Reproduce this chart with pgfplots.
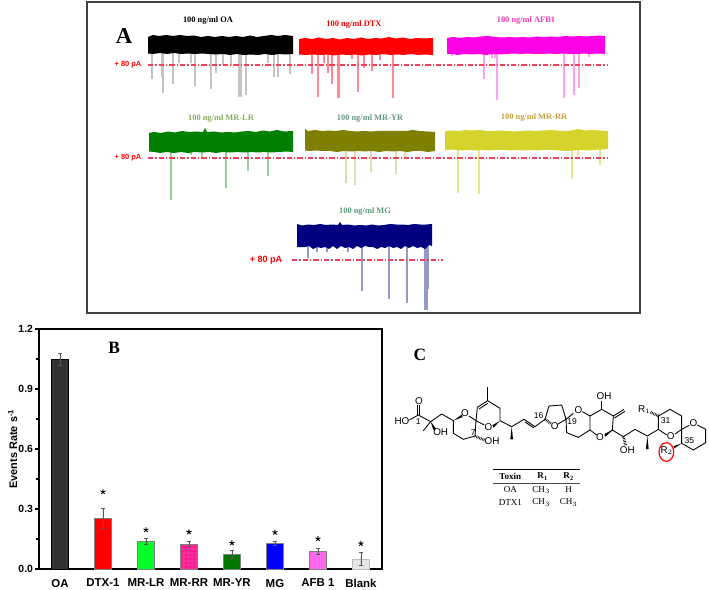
\documentclass[border=0pt]{standalone}
\usepackage{fontspec}
\setmainfont{Liberation Serif}
\setsansfont{Liberation Sans}
\usepackage{pgfplots}
\pgfplotsset{compat=1.18}
\usetikzlibrary{patterns}
\definecolor{redline}{HTML}{F0405A}
\definecolor{oaspike}{HTML}{C4C4C4}
\definecolor{dtxspike}{HTML}{FF8A96}
\definecolor{afbspike}{HTML}{FFA0F0}
\definecolor{lrspike}{HTML}{96D09A}
\definecolor{yrspike}{HTML}{DEDDB0}
\definecolor{rrspike}{HTML}{E8E88A}
\definecolor{mgspike}{HTML}{959BC8}
\definecolor{rrband}{HTML}{D4D42C}
\definecolor{magband}{HTML}{FF00E6}
\definecolor{lrband}{HTML}{008000}
\definecolor{yrband}{HTML}{808000}
\definecolor{mgband}{HTML}{000080}
\definecolor{afbtitle}{HTML}{EB3CB4}
\definecolor{lrtitle}{HTML}{87AF5F}
\definecolor{yrtitle}{HTML}{699687}
\definecolor{rrtitle}{HTML}{C8A03C}
\definecolor{mgtitle}{HTML}{5A9B7D}
\definecolor{barlr}{HTML}{00FF28}
\definecolor{barrr}{HTML}{FF1E96}
\definecolor{baryr}{HTML}{007800}
\definecolor{barafb}{HTML}{FF64F0}
\pgfplotsset{
  spike/.style={line width=0.8pt,unbounded coords=jump,forget plot},
  thresh/.style={redline,line width=0.9pt,dash pattern=on 4pt off 1.5pt on 1pt off 1.5pt,forget plot},
  band/.style={draw=none,fill=#1,forget plot},
  bond/.style={black,line width=0.65pt,forget plot},
  hashb/.style={black,line width=2pt,dash pattern=on 0.5pt off 0.7pt,forget plot},
  wedge/.style={fill=black,draw=none,forget plot},
  barstyle/.style={
    draw=gray,line width=0.6pt,bar shift=0pt,
    error bars/y dir=both,error bars/y explicit,
    error bars/error bar style={color=black!65,line width=0.5pt},
    error bars/error mark options={rotate=90,mark size=1.8pt,color=black!65}}
}
\begin{document}
\begin{tikzpicture}[x=1pt,y=1pt]
\path[use as bounding box] (0,0) rectangle (531.75,441.75);

% panel A, in picture pixels
\begin{axis}[at={(0pt,0pt)},anchor=south west,scale only axis,width=531.75pt,height=441.75pt,
  xmin=0,xmax=709,ymin=0,ymax=589,y dir=reverse,axis lines=none,clip=false]
  \addplot[black!75,line width=1.5pt,forget plot] coordinates {(87,2)(640,2)(640,313)(87,313)} -- cycle;

  % spikes under the traces
  \addplot[spike,oaspike] coordinates {(152,50)(152,79)(152,nan)(162,50)(162,77)(162,nan)(163,50)(163,93)(163,nan)(173,50)(173,84)(173,nan)(179,50)(179,63)(179,nan)(191,50)(191,63)(191,nan)(195,50)(195,86)(195,nan)(211,50)(211,89)(211,nan)(216,50)(216,73)(216,nan)(223,50)(223,65)(223,nan)(231,50)(231,66)(231,nan)(239,50)(239,97)(239,nan)(241,50)(241,97)(241,nan)(246,50)(246,95)(246,nan)(268,50)(268,63)(268,nan)(274,50)(274,77)(274,nan)(278,50)(278,77)(278,nan)(290,50)(290,74)};
  \addplot[spike,dtxspike] coordinates {(312,50)(312,74)(312,nan)(318,50)(318,97)(318,nan)(324,50)(324,63)(324,nan)(328,50)(328,73)(328,nan)(332,50)(332,84)(332,nan)(338,50)(338,98)(338,nan)(339,50)(339,98)(339,nan)(352,50)(352,59)(352,nan)(358,50)(358,92)(358,nan)(364,50)(364,68)(364,nan)(372,50)(372,71)(372,nan)(380,50)(380,60)(380,nan)(393,50)(393,98)};
  \addplot[spike,afbspike] coordinates {(452,50)(452,56)(452,nan)(484,50)(484,79)(484,nan)(492,50)(492,58)(492,nan)(495,50)(495,58)(495,nan)(497,50)(497,100)(497,nan)(564,50)(564,98)(564,nan)(574,50)(574,95)(574,nan)(579,50)(579,88)(579,nan)(589,50)(589,57)};
  \addplot[spike,lrspike] coordinates {(171,148)(171,200)(171,nan)(191,148)(191,155)(191,nan)(202,148)(202,157)(202,nan)(226,148)(226,188)(226,nan)(248,148)(248,171)(248,nan)(268,148)(268,176)};
  \addplot[spike,yrspike] coordinates {(346,148)(346,183)(346,nan)(355,148)(355,185)(355,nan)(371,148)(371,172)(371,nan)(396,148)(396,174)(396,nan)(405,148)(405,159)};
  \addplot[spike,rrspike] coordinates {(458,148)(458,193)(458,nan)(479,148)(479,194)(479,nan)(572,148)(572,179)(572,nan)(578,148)(578,155)(578,nan)(600,148)(600,165)};
  \addplot[spike,mgspike] coordinates {(308,245)(308,258)(308,nan)(317,245)(317,252)(317,nan)(327,245)(327,252)(327,nan)(348,245)(348,252)(348,nan)(362,245)(362,291)(362,nan)(389,245)(389,299)(389,nan)(407,245)(407,303)(407,nan)(425,245)(425,310)(425,nan)(427,245)(427,310)(427,nan)(428,245)(428,289)};

  % trace bands
  \addplot[band=black] coordinates {(148,37)(153,35)(159,36)(166,35)(173,36)(180,35)(187,36)(194,35.5)(201,37)(208,36)(215,37)(222,36)(229,37)(236,36)(243,37)(250,35.5)(257,37)(264,36)(271,35)(278,36)(285,35)(293,36)
    (293,54)(286,54.5)(279,54)(272,55)(265,54)(258,55)(251,54.5)(244,55)(237,54)(230,55)(223,54)(216,54.5)(209,54)(202,53.5)(195,54)(188,53.5)(181,54)(174,53)(167,54)(160,53)(153,54)(148,53.5)} -- cycle;
  \addplot[band=red] coordinates {(299,39)(305,38)(312,39)(319,37.5)(326,39)(333,38)(340,39.5)(347,38)(354,39)(361,37.5)(368,39)(375,38)(382,38.5)(389,37)(396,38.5)(403,37.5)(410,39)(417,38)(424,38.5)(433,38)
    (433,55)(425,54.5)(418,55)(411,54)(404,55)(397,54.5)(390,55)(383,54)(376,55)(369,54.5)(362,55.5)(355,54.5)(348,55)(341,54.5)(334,55.5)(327,54.5)(320,55)(313,54.5)(306,55)(299,54.5)} -- cycle;
  \addplot[band=magband] coordinates {(447,38)(453,37)(460,38)(467,37)(474,37.5)(481,36.5)(488,36)(495,37)(502,37.5)(509,37)(516,37.5)(523,37)(530,37.5)(537,36.5)(544,37)(551,36.5)(558,37)(565,36)(572,36.5)(579,36)(586,36.5)(593,36)(599,35.5)(605,36)
    (605,54)(598,53.5)(591,54)(584,53.5)(577,54)(570,54)(563,53.5)(556,54)(549,53.5)(542,54)(535,54)(528,53.5)(521,54)(514,53.5)(507,54)(500,54.5)(493,54)(486,55)(479,54)(472,54.5)(465,54)(458,55)(452,54)(447,54)} -- cycle;
  \addplot[band=lrband] coordinates {(149,133)(154,132)(161,133)(168,131.5)(175,132.5)(182,131)(189,132)(196,131.5)(203,132)(205,128)(207,132)(214,131.5)(221,132.5)(228,132)(235,132.5)(242,131.5)(249,131)(256,132)(263,130.5)(270,131.5)(277,130)(284,131.5)(293,131)
    (293,152)(286,151.5)(279,152)(272,152.5)(265,152)(258,152.5)(251,152)(244,152.5)(237,152)(230,152.5)(223,152)(216,153)(209,152)(202,152.5)(195,152)(188,153)(181,152)(174,153)(167,152)(160,153)(154,152)(149,151.5)} -- cycle;
  \addplot[band=yrband] coordinates {(305,129)(308,131)(315,130)(322,131)(329,130.5)(336,131)(343,130)(350,131)(357,131.5)(364,131)(371,131.5)(378,131)(385,131)(392,131)(399,131)(406,131)(413,130)(420,131)(427,131.5)(435,132)
    (435,151)(428,152)(421,151)(414,151)(407,152)(400,151)(393,151.5)(386,151)(379,152)(372,151)(365,151.5)(358,151)(351,151.5)(344,151)(337,152)(330,151)(323,151)(316,150.5)(309,151)(305,150.5)} -- cycle;
  \addplot[band=rrband] coordinates {(445,131)(452,130.5)(459,131)(466,130)(473,130.5)(480,130)(487,131)(494,131)(501,130.5)(508,131)(515,131.5)(522,131)(529,130.5)(536,131)(543,130.5)(550,130)(557,130.5)(564,131)(571,130.5)(578,129)(585,130.5)(592,130)(600,130.5)(608,131)
    (608,149)(601,149.5)(594,150)(587,150.5)(580,150)(573,150.5)(566,151)(559,150.5)(552,150)(545,150)(538,150.5)(531,150)(524,150.5)(517,150)(510,150.5)(503,150)(496,150)(489,150.5)(482,150)(475,150.5)(468,150)(461,150.5)(454,149.5)(445,150)} -- cycle;
  \addplot[band=mgband] coordinates {(297,224)(302,225.5)(308,224.5)(314,225)(320,224)(326,225)(332,224.5)(338,225)(340,222)(342,225)(348,224.5)(354,225.5)(360,225)(366,225.5)(372,224.5)(378,225.5)(384,225)(390,224)(396,224.5)(402,224.5)(408,225)(414,224)(420,224.5)(426,224.5)(432,224)
    (432,246)(429,245)(425,249)(421,247)(417,248)(413,246)(409,248)(405,246)(401,249)(397,247)(393,248)(389,246)(385,248)(381,247)(377,249)(373,247)(369,247)(365,246)(361,248)(357,246)(353,249)(349,247)(345,248)(341,246)(337,249)(333,246)(329,249)(325,247)(321,248)(317,247)(313,249)(309,246)(305,247)(301,247)(297,247)} -- cycle;

  % threshold lines
  \addplot[thresh] coordinates {(148,65)(608,65)};
  \addplot[thresh] coordinates {(148,158)(608,158)};
  \addplot[thresh] coordinates {(292,260)(443,260)};

  \node[font=\bfseries\fontsize{17}{17}\selectfont,inner sep=0] at (axis cs:124,36) {A};
  \node[font=\sffamily\bfseries\fontsize{5.6}{6}\selectfont,text=red,inner sep=0] at (axis cs:128,65) {+ 80 pA};
  \node[font=\sffamily\bfseries\fontsize{5.6}{6}\selectfont,text=red,inner sep=0] at (axis cs:128,158) {+ 80 pA};
  \node[font=\sffamily\bfseries\fontsize{6.8}{7}\selectfont,text=red,inner sep=0] at (axis cs:266,260) {+ 80 pA};
  \node[font=\bfseries\fontsize{6.3}{7}\selectfont,text=black,inner sep=0] at (axis cs:208,21) {100 ng/ml OA};
  \node[font=\bfseries\fontsize{6.3}{7}\selectfont,text=red,inner sep=0] at (axis cs:354,25) {100 ng/ml DTX};
  \node[font=\bfseries\fontsize{6.3}{7}\selectfont,text=afbtitle,inner sep=0] at (axis cs:526,21) {100 ng/ml AFB1};
  \node[font=\bfseries\fontsize{6.3}{7}\selectfont,text=lrtitle,inner sep=0] at (axis cs:221,119) {100 ng/ml MR-LR};
  \node[font=\bfseries\fontsize{6.3}{7}\selectfont,text=yrtitle,inner sep=0] at (axis cs:370,119) {100 ng/ml MR-YR};
  \node[font=\bfseries\fontsize{6.3}{7}\selectfont,text=rrtitle,inner sep=0] at (axis cs:534,118) {100 ng/ml MR-RR};
  \node[font=\bfseries\fontsize{6.3}{7}\selectfont,text=mgtitle,inner sep=0] at (axis cs:365,212) {100 ng/ml MG};
\end{axis}

% panel B
\begin{axis}[at={(29.25pt,15pt)},anchor=south west,scale only axis,width=257.25pt,height=180pt,
  ybar,axis line style={line width=1.7pt},
  xmin=0.512,xmax=8.49,ymin=0,ymax=1.2,
  xtick={1,...,8},
  xticklabels={OA,DTX-1,MR-LR,MR-RR,MR-YR,\raisebox{1.5pt}{MG},\raisebox{1.5pt}{AFB 1},\raisebox{1.5pt}{Blank}},
  x tick style={draw=none},
  x tick label style={font=\sffamily\bfseries\fontsize{8.6}{9}\selectfont,yshift=-1pt},
  ytick={0,0.3,0.6,0.9,1.2},ytick pos=left,minor y tick num=1,
  tick align=outside,
  y tick style={line width=1pt,black},
  major tick length=3pt,minor tick length=2pt,
  y tick label style={font=\sffamily\bfseries\fontsize{7.8}{8}\selectfont,xshift=2pt,
    /pgf/number format/.cd,fixed,fixed zerofill,precision=1,assume math mode=true},
  ylabel={Events Rate s\textsuperscript{-1}},
  ylabel style={font=\sffamily\bfseries\fontsize{8.2}{9}\selectfont,yshift=-6pt},
  bar width=12.75pt,clip=false]
  \addplot[barstyle,fill=black!80,draw=black] coordinates {(1,1.05) +- (0,0.03)};
  \addplot[barstyle,fill=red] coordinates {(2,0.255) +- (0,0.05)};
  \addplot[barstyle,fill=barlr] coordinates {(3,0.14) +- (0,0.015)};
  \addplot[barstyle,fill=barrr,postaction={pattern=dots,pattern color=black!30}] coordinates {(4,0.125) +- (0,0.012)};
  \addplot[barstyle,fill=baryr] coordinates {(5,0.075) +- (0,0.02)};
  \addplot[barstyle,fill=blue] coordinates {(6,0.13) +- (0,0.01)};
  \addplot[barstyle,fill=barafb,postaction={pattern=dots,pattern color=black!30}] coordinates {(7,0.09) +- (0,0.016)};
  \addplot[barstyle,fill=black!10,draw=black!25] coordinates {(8,0.05) +- (0,0.032)};
  \addplot[only marks,mark=star,mark size=2pt,mark options={line width=0.7pt,black},forget plot] coordinates {(2,0.386)(3,0.196)(4,0.185)(5,0.13)(6,0.183)(7,0.151)(8,0.127)};
  \node[font=\bfseries\fontsize{13}{13}\selectfont,inner sep=0] at (axis cs:2.26,1.108) {B};
\end{axis}

% panel C, in units of a third of a pixel
\begin{axis}[at={(300pt,59.25pt)},anchor=south west,scale only axis,width=231.75pt,height=135pt,
  xmin=0,xmax=927,ymin=0,ymax=540,y dir=reverse,axis lines=none,clip=false,
  every node/.append style={inner sep=0}]
  \addplot[bond] coordinates {(28,270)(55,255)(92,275)(125,252)(160,272)(160,310)(190,328)(225,318)(228,272)(207,258)};
  \addplot[bond] coordinates {(52,255)(52,226)};
  \addplot[bond] coordinates {(59,255)(59,226)};
  \addplot[bond] coordinates {(92,275)(70,302)};
  \addplot[wedge] coordinates {(92,275)(100,300)(108,296)} -- cycle;
  \addplot[wedge] coordinates {(160,272)(185,254)(188,261)} -- cycle;
  \addplot[bond] coordinates {(228,272)(232,232)(263,212)(300,235)(300,272)};
  \addplot[bond] coordinates {(237,237)(263,220)};
  \addplot[bond] coordinates {(263,212)(263,172)};
  \addplot[wedge] coordinates {(300,272)(277,286)(281,293)} -- cycle;
  \addplot[bond] coordinates {(253,285)(228,272)};
  \addplot[hashb] coordinates {(225,318)(254,331)};
  \addplot[bond] coordinates {(300,272)(335,290)(372,268)(405,290)(435,268)};
  \addplot[bond] coordinates {(375,276)(402,294)};
  \addplot[wedge] coordinates {(335,290)(331,328)(339,328)} -- cycle;
  \addplot[bond] coordinates {(435,268)(447,228)(485,225)(498,268)(520,250)};
  \addplot[hashb] coordinates {(435,268)(453,281)};
  \addplot[bond] coordinates {(474,282)(498,268)(500,308)(535,322)(570,300)(570,258)(547,245)};
  \addplot[bond] coordinates {(570,258)(605,238)(640,258)(637,300)(615,318)};
  \addplot[bond] coordinates {(570,300)(590,315)};
  \addplot[bond] coordinates {(605,238)(605,212)};
  \addplot[bond] coordinates {(640,258)(672,238)};
  \addplot[bond] coordinates {(643,264)(675,244)};
  \addplot[wedge] coordinates {(637,300)(613,312)(617,320)} -- cycle;
  \addplot[bond] coordinates {(637,300)(670,320)(705,298)(742,318)(775,298)(775,258)(810,238)(845,258)(845,298)(825,312)};
  \addplot[hashb] coordinates {(670,320)(677,346)};
  \addplot[wedge] coordinates {(742,318)(738,357)(746,357)} -- cycle;
  \addplot[bond] coordinates {(775,298)(800,315)};
  \addplot[hashb] coordinates {(775,258)(750,246)};
  \addplot[bond] coordinates {(845,298)(868,286)};
  \addplot[bond] coordinates {(892,285)(917,298)(917,338)(880,360)(845,340)(845,298)};
  \addplot[wedge] coordinates {(845,340)(820,349)(823,355)} -- cycle;
  \addplot[black,line width=0.8pt,forget plot] coordinates {(278,418)(540,418)};
  \addplot[black!70,line width=0.8pt,forget plot] coordinates {(278,460)(540,460)};
  \draw[red,line width=0.9pt] (axis cs:799,366) ellipse [x radius=5.5pt,y radius=7pt];

  \node[font=\bfseries\fontsize{13}{13}\selectfont] at (axis cs:60,75) {C};
  \begin{scope}[every node/.append style={font=\sffamily\fontsize{7.4}{8}\selectfont}]
  \node at (axis cs:6,272) {HO};
  \node at (axis cs:57,212) {O};
  \node at (axis cs:122,307) {OH};
  \node at (axis cs:195,250) {O};
  \node at (axis cs:265,292) {O};
  \node at (axis cs:276,332) {OH};
  \node at (axis cs:464,288) {O};
  \node at (axis cs:535,240) {O};
  \node at (axis cs:600,320) {O};
  \node at (axis cs:612,198) {OH};
  \node at (axis cs:682,360) {OH};
  \node at (axis cs:812,318) {O};
  \node at (axis cs:880,280) {O};
  \node at (axis cs:733,238) {R$_{1}$};
  \node at (axis cs:800,362) {R$_{2}$};
  \end{scope}
  \begin{scope}[every node/.append style={font=\sffamily\fontsize{6.4}{7}\selectfont}]
  \node at (axis cs:55,276) {1};
  \node at (axis cs:220,307) {7};
  \node at (axis cs:416,257) {16};
  \node at (axis cs:516,276) {19};
  \node at (axis cs:797,272) {31};
  \node at (axis cs:868,333) {35};
  \end{scope}
  \begin{scope}[every node/.append style={font=\fontsize{6.8}{7}\selectfont}]
  \node[font=\bfseries\fontsize{6.8}{7}\selectfont] at (axis cs:331,440) {Toxin};
  \node[font=\bfseries\fontsize{6.8}{7}\selectfont] at (axis cs:428,440) {R$_{\mathbf{1}}$};
  \node[font=\bfseries\fontsize{6.8}{7}\selectfont] at (axis cs:506,440) {R$_{\mathbf{2}}$};
  \node at (axis cs:331,479) {OA};
  \node at (axis cs:424,479) {CH$_{3}$};
  \node at (axis cs:506,479) {H};
  \node at (axis cs:331,517) {DTX1};
  \node at (axis cs:424,517) {CH$_{3}$};
  \node at (axis cs:506,517) {CH$_{3}$};
  \end{scope}
\end{axis}
\end{tikzpicture}
\end{document}
